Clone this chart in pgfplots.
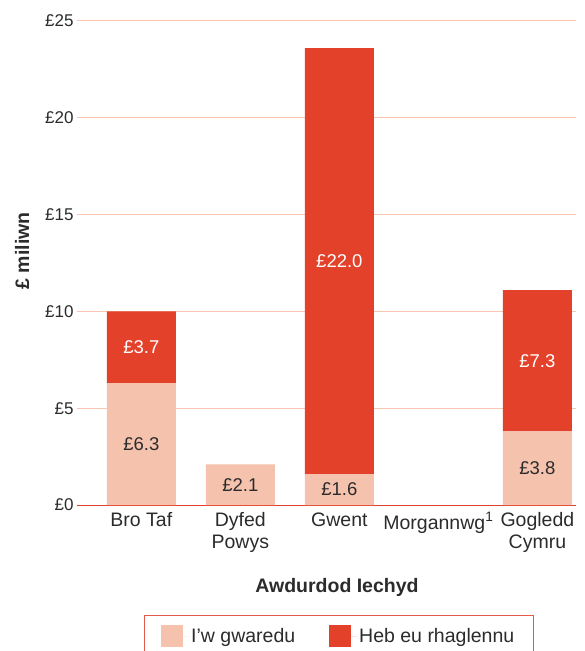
\documentclass[border=0pt]{standalone}
\usepackage{fontspec}
\setmainfont{Liberation Sans}
\usepackage{pgfplots}
\pgfplotsset{compat=1.18}
\definecolor{lpink}{HTML}{F5C2AD}
\definecolor{bred}{HTML}{E4412B}
\definecolor{legc}{HTML}{E65A4C}
\definecolor{gridc}{HTML}{F8C6B1}
\definecolor{txt}{HTML}{2B2B2B}
\pgfplotsset{common/.style={
  at={(77pt,146pt)}, anchor=south west,
  scale only axis, width=499pt, height=484pt,
  xmin=-0.65, xmax=4.39, ymin=0, ymax=25}}
\begin{document}
\begin{tikzpicture}
\useasboundingbox (0,0) rectangle (585pt,651pt);
\begin{axis}[common,
  ybar stacked, bar width=69pt,
  xtick={0,1,2,3,4},
  xticklabels={Bro Taf,{Dyfed\\Powys},Gwent,Morgannwg\textsuperscript{1},{Gogledd\\Cymru}},
  xticklabel style={align=center, font=\fontsize{19.5}{22}\selectfont, text=txt, yshift=-4pt},
  ytick={0,5,10,15,20,25},
  yticklabels={£0,£5,£10,£15,£20,£25},
  yticklabel style={font=\fontsize{17}{20}\selectfont, text=txt},
  major tick length=0pt,
  tick style={draw=none},
  axis line style={draw=none},
  ymajorgrids, grid style={gridc, line width=1pt},
  extra y ticks={0}, extra y tick labels={},
  extra y tick style={grid style={bred, line width=1pt}},
  xlabel={Awdurdod Iechyd},
  xlabel style={at={(axis description cs:0.521,-0.171)}, anchor=center, font=\bfseries\fontsize{19.5}{22}\selectfont, text=txt},
  ylabel={£ miliwn},
  ylabel style={at={(axis description cs:-0.11,0.525)}, anchor=center, font=\bfseries\fontsize{19.5}{22}\selectfont, text=txt},
  legend columns=2,
  legend style={at={(0.5245,-0.227)}, anchor=north, draw=legc, line width=1.2pt,
    font=\fontsize{19.5}{22}\selectfont, text=txt, inner xsep=17pt, inner ysep=10pt,
    /tikz/every even column/.append style={column sep=32pt}},
  legend image code/.code={\fill[#1] (0pt,-11pt) rectangle (22pt,11pt); \path (22pt,0pt) -- (28pt,0pt);},
]
\addplot[fill=lpink, draw=none] coordinates {(0,6.3) (1,2.1) (2,1.6) (3,0) (4,3.8)};
\addlegendentry{I'w gwaredu}
\addplot[fill=bred, draw=none] coordinates {(0,3.7) (1,0) (2,22.0) (3,0) (4,7.3)};
\addlegendentry{Heb eu rhaglennu}
\end{axis}
\begin{axis}[common, hide axis,
  nodes near coords, point meta=explicit symbolic,
  nodes near coords align=center,
  every node near coord/.append style={font=\fontsize{18.5}{20}\selectfont, anchor=center}]
\addplot[draw=none, mark=none, nodes near coords style={text=txt}] coordinates {(0,3.15)[£6.3] (1,1.05)[£2.1] (2,0.8)[£1.6] (4,1.9)[£3.8]};
\addplot[draw=none, mark=none, nodes near coords style={text=white}] coordinates {(0,8.15)[£3.7] (2,12.6)[£22.0] (4,7.45)[£7.3]};
\end{axis}
\end{tikzpicture}
\end{document}
